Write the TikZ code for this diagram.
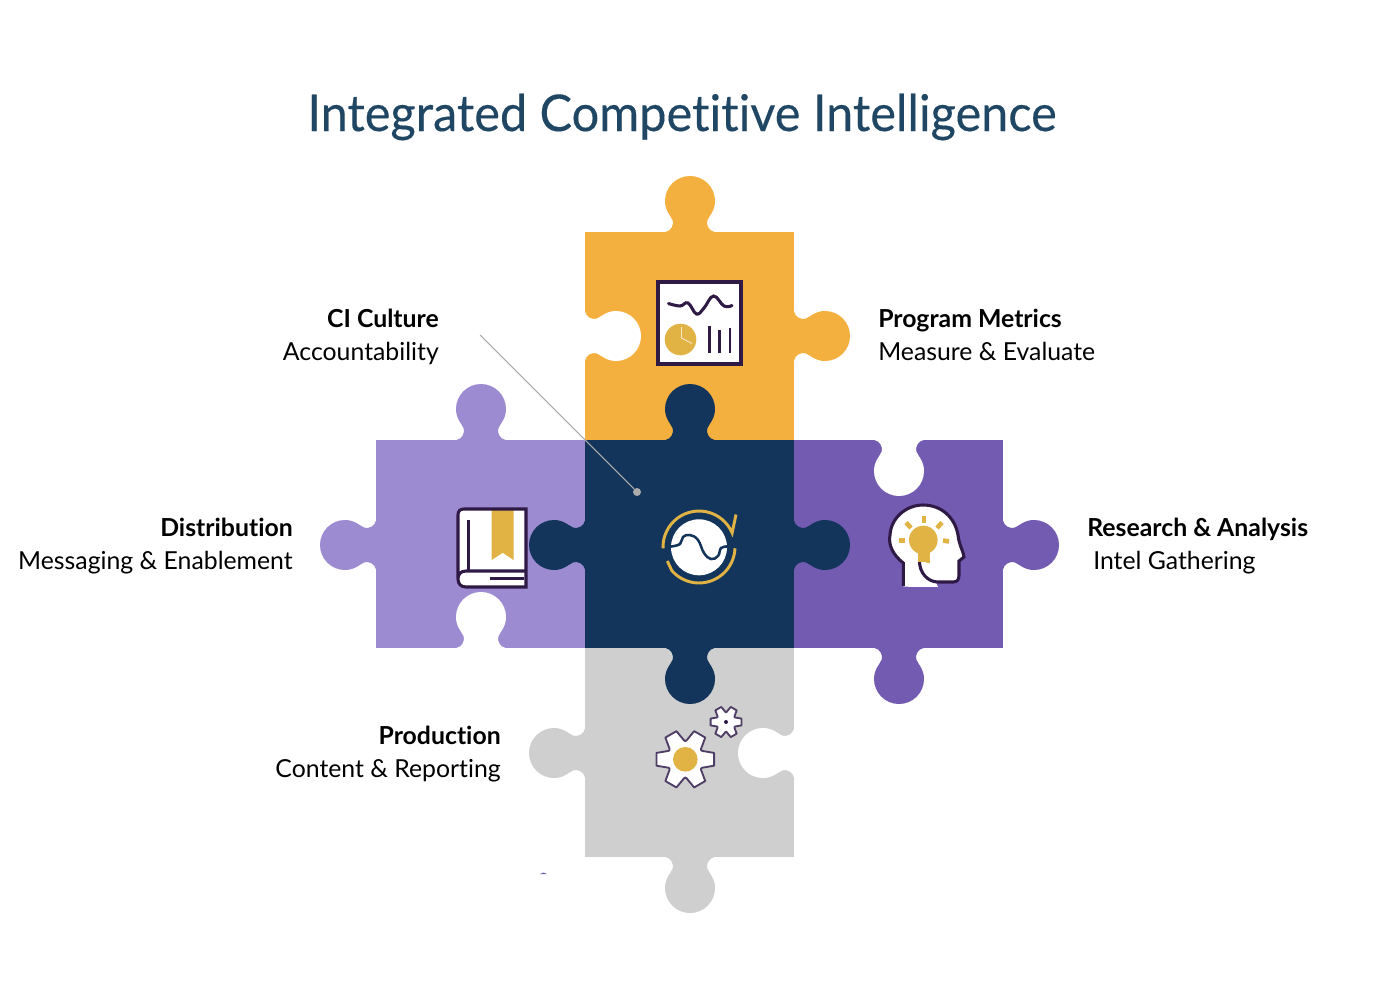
\documentclass[tikz,border=0pt]{standalone}
\usepackage{fontspec}
\setmainfont[Ligatures=NoCommon]{Lato}
\newfontfamily\titlefont[Ligatures=NoCommon,FakeStretch=0.96,FakeBold=0.25]{Lato}
\definecolor{cgold}{HTML}{F4B03E}
\definecolor{cnavy}{HTML}{14355B}
\definecolor{clav}{HTML}{9D8BD2}
\definecolor{cpurp}{HTML}{745BB2}
\definecolor{cgray}{HTML}{CFCFCF}
\definecolor{ctitle}{HTML}{1F4763}
\definecolor{cicon}{HTML}{E0B344}
\definecolor{cdark}{HTML}{2F1A45}
\definecolor{cgear}{HTML}{4F3F66}
\definecolor{cline}{HTML}{ABABAB}
\tikzset{
  x=0.75pt,y=-0.75pt,
  tab/.pic={
    \path[pic actions] (-24.5,0.4) -- (-24.5,0)
      .. controls (-19,-1) and (-16,-7) .. (-17.3,-11.5)
      .. controls (-19,-16) and (-25,-21) .. (-25,-31)
      .. controls (-25,-44.8) and (-13.8,-56) .. (0,-56)
      .. controls (13.8,-56) and (25,-44.8) .. (25,-31)
      .. controls (25,-21) and (19,-16) .. (17.3,-11.5)
      .. controls (16,-7) and (19,-1) .. (24.5,0)
      -- (24.5,0.4) -- cycle;
  },
  gear/.pic={
    \path[pic actions,line join=round]
      (-12.5:1)
      \foreach \a in {0,60,...,300}{
        -- ({\a-12.5}:1) -- ({\a+12.5}:1) -- ({\a+21}:0.74)
        .. controls ({\a+30}:0.58) .. ({\a+39}:0.74)
      } -- cycle;
  },
  lbl/.style={font=\fontsize{18.6pt}{24.75pt}\selectfont,text=black,inner sep=0pt},
  icon/.style={draw=cdark,line width=2.3pt},
  ray/.style={draw=cicon,line width=3.4pt},
  arcline/.style={draw=cicon,line width=2.2pt,line join=miter},
}
\begin{document}
\begin{tikzpicture}
\useasboundingbox (0,0) rectangle (1380,984);
\fill[white] (0,0) rectangle (1380,984);

% title
\node[font=\titlefont\fontsize{38pt}{44pt}\selectfont,text=ctitle,inner sep=0pt] (title) at (682,117) {Integrated Competitive Intelligence};

% pieces
\fill[cgold] (585,232) rectangle (794,440);
\fill[clav] (376,440) rectangle (585,648);
\fill[cpurp] (794,440) rectangle (1003,648);
\fill[cgray] (585,648) rectangle (794,857);
\fill[cnavy] (585,440) rectangle (794,648);

% tabs
\pic[fill=cgold] at (690,232) {tab};
\pic[fill=cgold,rotate=-90] at (794,336) {tab};
\pic[fill=white,rotate=-90] at (585,336) {tab};
\pic[fill=cnavy] at (690,440) {tab};
\pic[fill=clav] at (481,440) {tab};
\pic[fill=clav,rotate=90] at (376,545) {tab};
\pic[fill=white] at (481,648) {tab};
\pic[fill=cnavy,rotate=90] at (585,545) {tab};
\pic[fill=cnavy,rotate=-90] at (794,545) {tab};
\pic[fill=cnavy,rotate=180] at (690,648) {tab};
\pic[fill=white,rotate=180] at (899,440) {tab};
\pic[fill=cpurp,rotate=-90] at (1003,545) {tab};
\pic[fill=cpurp,rotate=180] at (899,648) {tab};
\pic[fill=cgray,rotate=90] at (585,753) {tab};
\pic[fill=white,rotate=90] at (794,753) {tab};
\pic[fill=cgray,rotate=180] at (690,857) {tab};

% tiny sliver
\fill[cpurp] (540,874) .. controls (542,872) and (545,872) .. (547,874) -- cycle;

% chart icon
\draw[icon,fill=white] (658,282) rectangle (741,364);
\draw[cdark,line width=2.3pt,line cap=round] plot[smooth,tension=0.7] coordinates {(668.5,303.5) (680,306) (688,303) (696.5,314) (704,308) (713.5,296) (724,306) (732,305.5)};
\fill[cicon] (680.5,339.5) circle[radius=15.8];
\draw[white!70!cicon,line width=0.7pt] (681.5,327) -- (681.5,338) -- (692,343.5);
\draw[cdark,line width=2.2pt] (709.3,325.5) -- (709.3,353);
\draw[cdark,line width=2.2pt] (719.7,330) -- (719.7,353);
\draw[cdark,line width=2.2pt] (730,327.5) -- (730,353);

% book icon
\path[fill=white] (463,509) -- (526,509) -- (526,587) -- (463,587) .. controls (459,587) and (458,585) .. (458,582) -- (458,514) .. controls (458,511) and (460,509) .. (463,509) -- cycle;
\fill[cicon] (491.7,510) -- (513.5,510) -- (513.5,560) -- (502.7,552.7) -- (491.7,560) -- cycle;
\draw[icon] (526,571) -- (466,571) .. controls (460,571) and (458,575) .. (458,579)
   .. controls (458,584) and (461,587) .. (466,587) -- (526,587) -- (526,509) -- (464,509)
   .. controls (460,509) and (458,511) .. (458,515) -- (458,579);
\draw[icon,line width=2pt] (468.5,520) -- (468.5,571);
\draw[icon,line width=2pt] (490,578.7) -- (524,578.7);

% cycle icon
\fill[white] (699,547.3) circle[radius=28];
\draw[cnavy,line width=1.9pt] plot[smooth,tension=0.7] coordinates {(671,546.5) (680,544) (683,537) (690,535) (698,540) (704,553) (711,559) (718,556) (721,548) (727,546.5)};
\draw[arcline] plot[smooth,domain=178:337,samples=24] ({699+36*cos(\x)},{547+36*sin(\x)}) -- (736,514.5);
\draw[arcline] plot[smooth,domain=2:139,samples=24] ({699+36*cos(\x)},{547+36*sin(\x)}) -- (667.3,561);

% head icon
\fill[white] (903.3,586.7) -- (903.3,563) .. controls (893,555) and (888,545) .. (890,535)
   .. controls (891,518) and (906,505) .. (923,505)
   .. controls (942,505) and (955,518) .. (958,535)
   .. controls (959,545) and (964,553) .. (964,557) -- (959,561) -- (959,575)
   .. controls (959,580) and (957,582) .. (953,582) -- (936,583) -- (938,587) -- cycle;
\draw[icon] (903.3,586) -- (903.3,563) .. controls (893,555) and (888,545) .. (890,535)
   .. controls (891,518) and (906,505) .. (923,505)
   .. controls (942,505) and (955,518) .. (958,535)
   .. controls (959,545) and (964,553) .. (964,557) -- (959,561) -- (959,575)
   .. controls (959,580) and (957,582) .. (953,582) -- (938,582)
   .. controls (928,582) and (919,573) .. (919.5,560);
\fill[cicon] (923.3,540) circle[radius=14.3];
\fill[cicon] (918,550) rectangle (930,562);
\fill[cicon] (926,560) rectangle (930,563);
\draw[ray] (899,540.7) -- (905,540.7);
\draw[ray] (906,522.5) -- (911,528);
\draw[ray] (924,515.5) -- (924,522.5);
\draw[ray] (942,522.5) -- (937,528);
\draw[ray] (943,540.5) -- (949,541.5);

% gears
\pic[fill=white,draw=cgear,line width=1.4pt,scale=29.5] at (685.3,759.3) {gear};
\fill[cicon] (685.3,759.3) circle[radius=12.3];
\pic[fill=white,draw=cgear,line width=1.4pt,scale=15.8] at (726,722) {gear};
\fill[cdark] (726,722) circle[radius=2];

% labels
\node[lbl,align=right,anchor=east] (ci) at (439,337.5) {\strut\textbf{CI Culture}\\\strut Accountability};
\node[lbl,align=left,anchor=west] (metrics) at (878,337.5) {\strut\textbf{Program Metrics}\\\strut Measure \& Evaluate};
\node[lbl,align=right,anchor=east] (dist) at (293,546.5) {\strut\textbf{Distribution}\\\strut Messaging \& Enablement};
\node[lbl,align=left,anchor=west] (research) at (1087,546.5) {\strut\textbf{Research \& Analysis}\\\strut\hspace*{4.5pt}Intel Gathering};
\node[lbl,align=right,anchor=east] (prod) at (501,754.5) {\strut\textbf{Production}\\\strut Content \& Reporting};

% leader
\coordinate (leadstart) at (480,335);
\node[circle,fill=cline,inner sep=0pt,minimum size=6pt] (dot) at (637,492) {};
\draw[cline,line width=0.8pt] (leadstart) -- (dot);
\end{tikzpicture}
\end{document}
